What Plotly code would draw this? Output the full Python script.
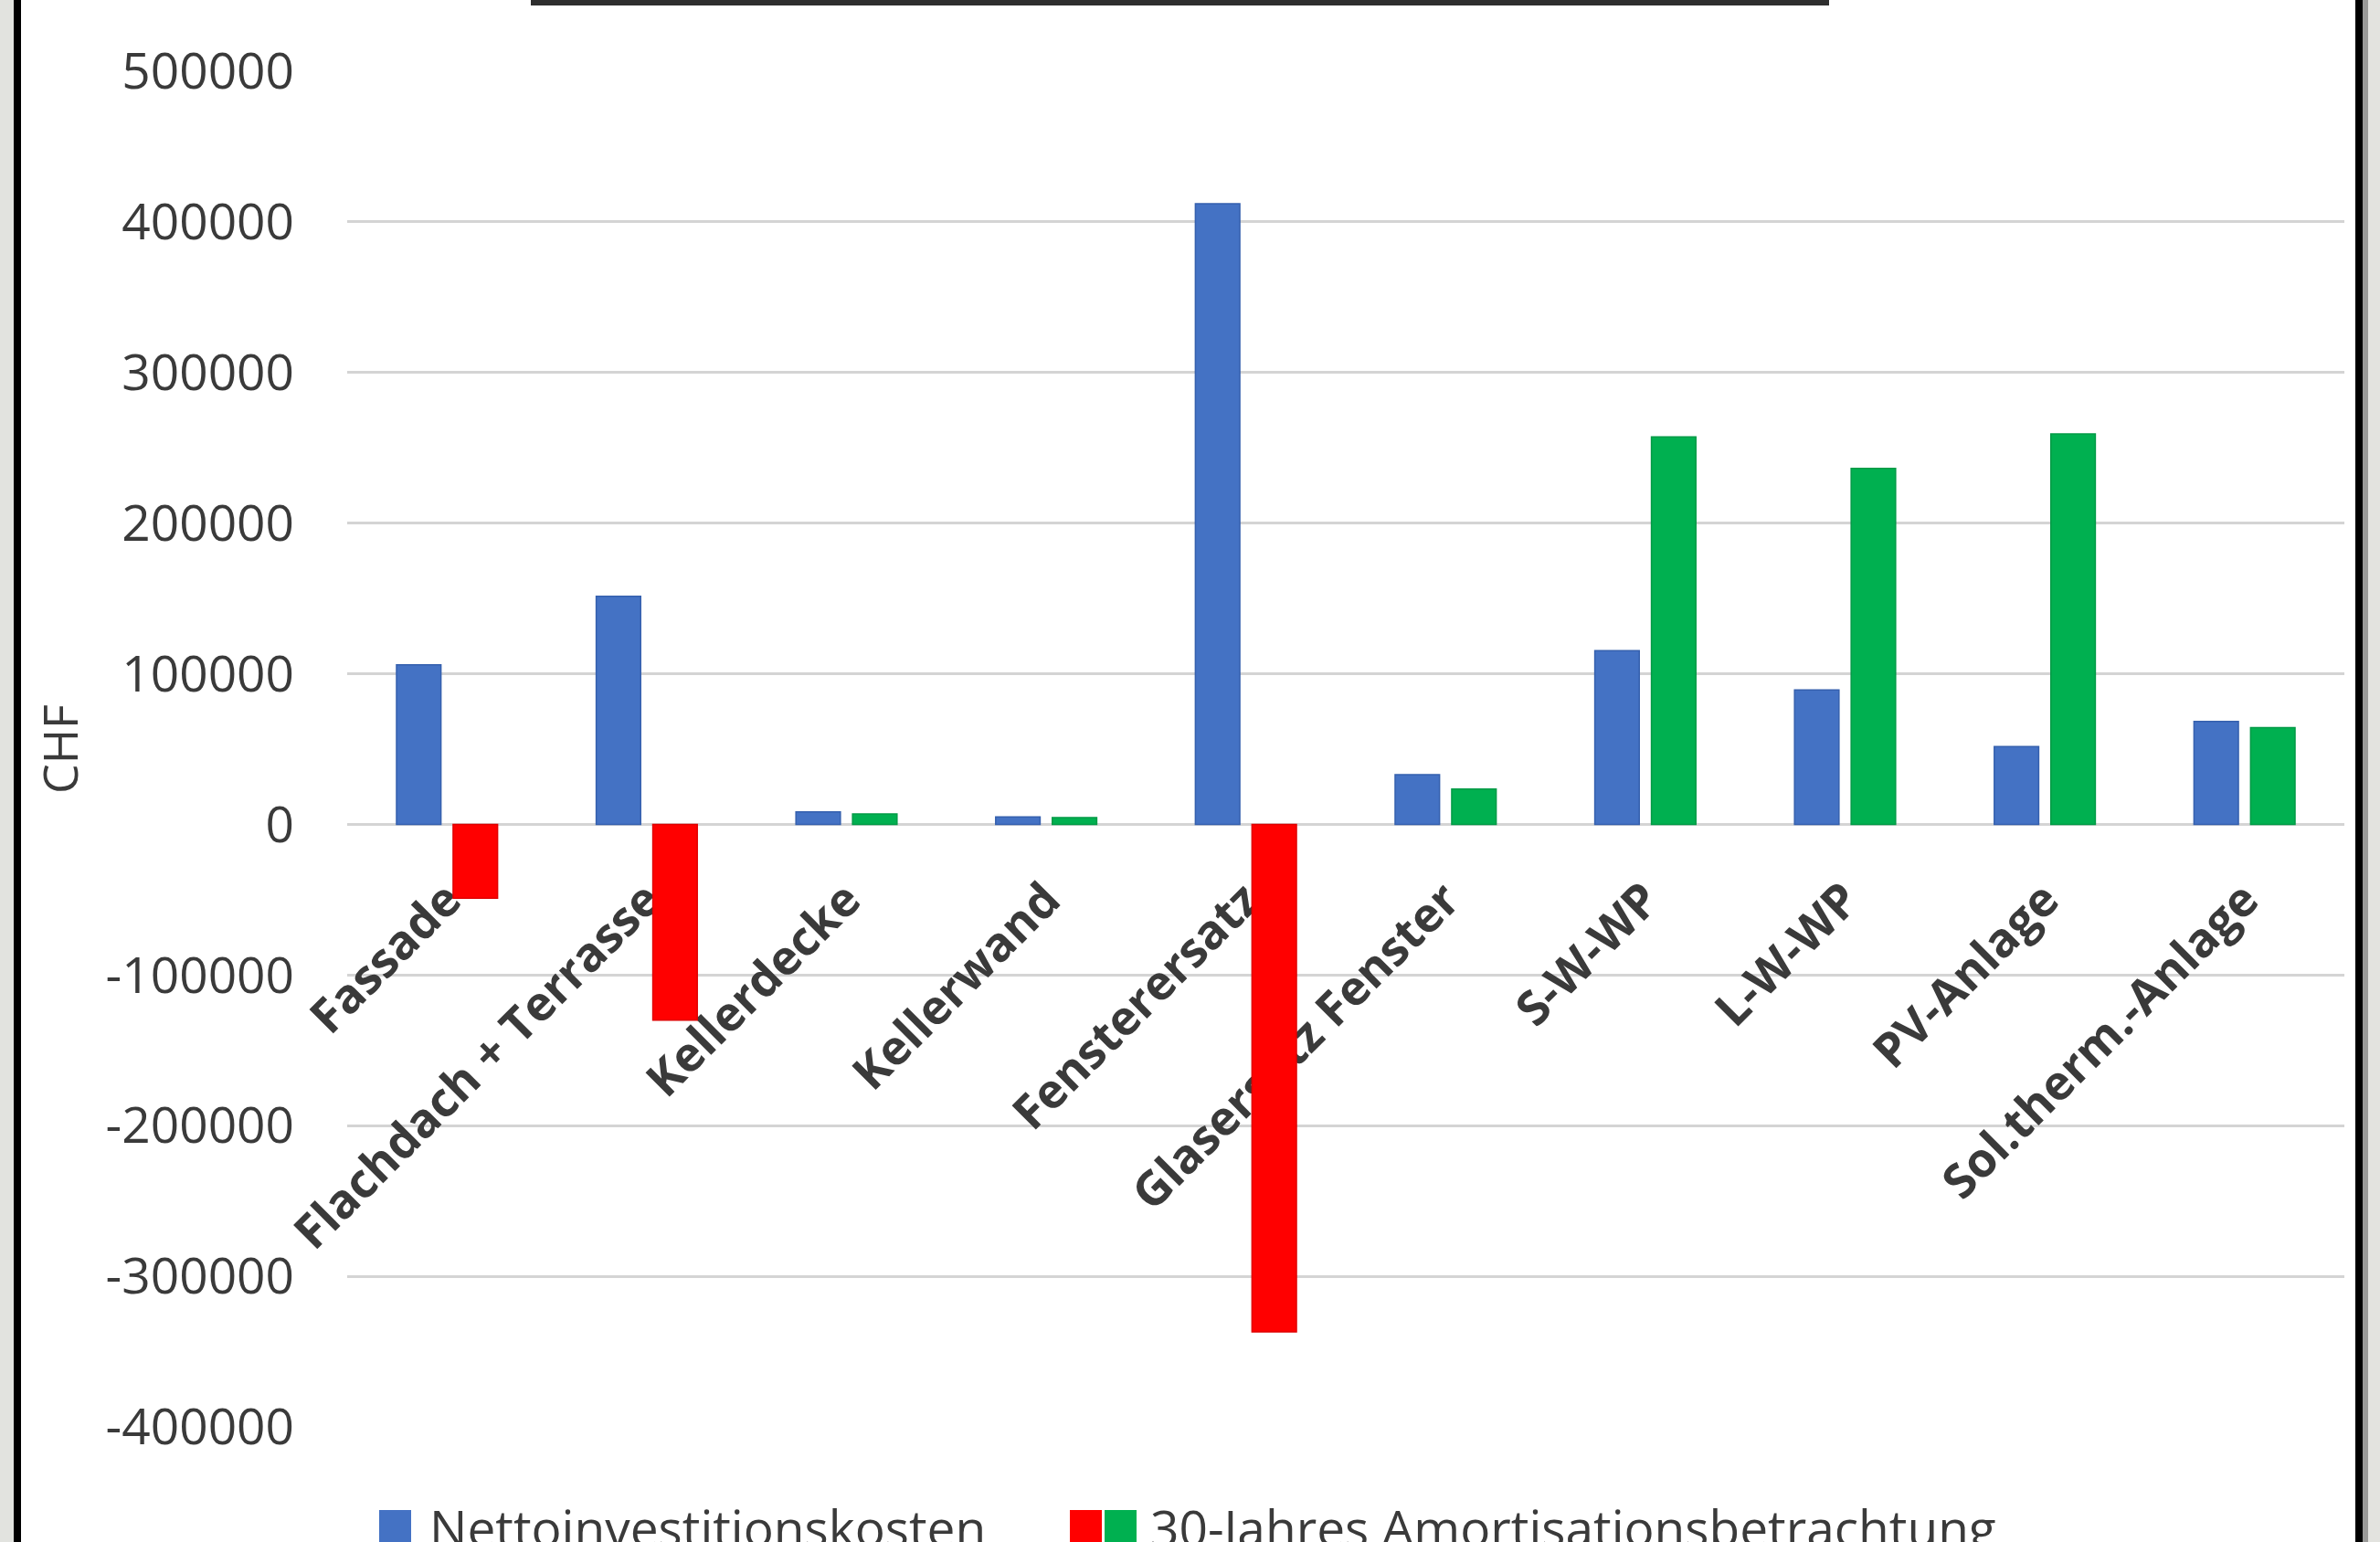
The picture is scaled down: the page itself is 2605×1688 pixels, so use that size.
import plotly.graph_objects as go

categories = ["Fassade", "Flachdach + Terrasse", "Kellerdecke", "Kellerwand",
              "Fensterersatz", "Glasersatz Fenster", "S-W-WP", "L-W-WP",
              "PV-Anlage", "Sol.therm.-Anlage"]
netto = [106000, 151500, 8300, 5000, 412000, 33000, 115300, 89300, 51700, 68400]
amort = [-49000, -130000, 7000, 4500, -337000, 23500, 257300, 236400, 259300, 64200]
y_tickvals = [500000, 400000, 300000, 200000, 100000, 0, -100000, -200000, -300000, -400000]
y_ticktext = ["500000", "400000", "300000", "200000", "100000", "0",
              "-100000", "-200000", "-300000", "-400000"]
legend_names = ["Nettoinvestitionskosten", "30-Jahres Amortisationsbetrachtung"]

W, H = 2605, 1688
L, R, T, B = 380, 39, 78, 126
PW, PH = W - L - R, H - T - B


def px_x(p):
    return (p - L) / PW


def px_y(p):
    return (H - B - p) / PH


BLUE, RED, GREEN = "#4472C4", "#FF0000", "#00B050"
TXT = "#3A3A3A"
FONT = "Open Sans"

amort_neg = [v if v < 0 else None for v in amort]
amort_pos = [v if v >= 0 else None for v in amort]

fig = go.Figure()
fig.add_trace(go.Bar(x=categories, y=netto, name=legend_names[0], offsetgroup="a",
                     marker=dict(color=BLUE, line=dict(color="#3560AE", width=1.5)),
                     showlegend=False))
fig.add_trace(go.Bar(x=categories, y=amort_neg, name=legend_names[1], offsetgroup="b",
                     marker=dict(color=RED, line=dict(color="#E00000", width=1.5)),
                     showlegend=False))
fig.add_trace(go.Bar(x=categories, y=amort_pos, name=legend_names[1], offsetgroup="b",
                     marker=dict(color=GREEN, line=dict(color="#009A46", width=1.5)),
                     showlegend=False))

ymin, ymax = -400000, 500000
zero_pos = (0 - ymin) / (ymax - ymin)

fig.update_layout(
    width=W, height=H,
    margin=dict(l=L, r=R, t=T, b=B, autoexpand=False),
    paper_bgcolor="white", plot_bgcolor="white",
    barmode="group", bargap=0.433, bargroupgap=0.215,
    font=dict(family=FONT, color=TXT),
    xaxis=dict(type="category", anchor="free", position=zero_pos, showline=False,
               showgrid=False, ticks="outside", ticklen=30, tickcolor="rgba(0,0,0,0)",
               tickangle=-45, automargin=False, layer="below traces",
               tickfont=dict(family=FONT, size=52, color=TXT, weight="bold")),
    yaxis=dict(range=[ymin, ymax], tickvals=y_tickvals, ticktext=y_ticktext,
               showgrid=True, gridcolor="#D4D4D4", gridwidth=3,
               zeroline=True, zerolinecolor="#D4D4D4", zerolinewidth=3,
               showline=False, ticks="outside", ticklen=46, tickcolor="rgba(0,0,0,0)",
               tickfont=dict(family=FONT, size=55, color=TXT),
               automargin=True,
               title=dict(text="CHF", standoff=13, font=dict(family=FONT, size=52, color=TXT))),
)

shapes = []
# outer frame strips
shapes.append(dict(type="rect", xref="paper", yref="paper", x0=px_x(0), x1=px_x(15),
                   y0=px_y(H), y1=px_y(0), fillcolor="#E2E3DF", line=dict(width=0), layer="above"))
shapes.append(dict(type="rect", xref="paper", yref="paper", x0=px_x(15), x1=px_x(23),
                   y0=px_y(H), y1=px_y(0), fillcolor="#000000", line=dict(width=0), layer="above"))
shapes.append(dict(type="rect", xref="paper", yref="paper", x0=px_x(2578), x1=px_x(2586),
                   y0=px_y(H), y1=px_y(0), fillcolor="#000000", line=dict(width=0), layer="above"))
shapes.append(dict(type="rect", xref="paper", yref="paper", x0=px_x(2586), x1=px_x(2592),
                   y0=px_y(H), y1=px_y(0), fillcolor="#9A9A98", line=dict(width=0), layer="above"))
shapes.append(dict(type="rect", xref="paper", yref="paper", x0=px_x(2592), x1=px_x(W),
                   y0=px_y(H), y1=px_y(0), fillcolor="#E3E3DF", line=dict(width=0), layer="above"))
# top title-box edge
shapes.append(dict(type="rect", xref="paper", yref="paper", x0=px_x(581), x1=px_x(2002),
                   y0=px_y(6), y1=px_y(0), fillcolor="#2E2E2E", line=dict(width=0), layer="above"))
# legend swatches
for (x0, x1, c) in [(415, 450, BLUE), (1171, 1206, RED), (1209, 1244, GREEN)]:
    shapes.append(dict(type="rect", xref="paper", yref="paper", x0=px_x(x0), x1=px_x(x1),
                       y0=px_y(H + 10), y1=px_y(1653), fillcolor=c,
                       line=dict(width=0), layer="above"))
fig.update_layout(shapes=shapes)

fig.add_annotation(xref="paper", yref="paper", x=px_x(468), y=px_y(1672), xanchor="left",
                   yanchor="middle", showarrow=False, text=legend_names[0],
                   font=dict(family=FONT, size=55, color=TXT))
fig.add_annotation(xref="paper", yref="paper", x=px_x(1257), y=px_y(1672), xanchor="left",
                   yanchor="middle", showarrow=False, text=legend_names[1],
                   font=dict(family=FONT, size=55, color=TXT))

fig.write_html("out.html")
